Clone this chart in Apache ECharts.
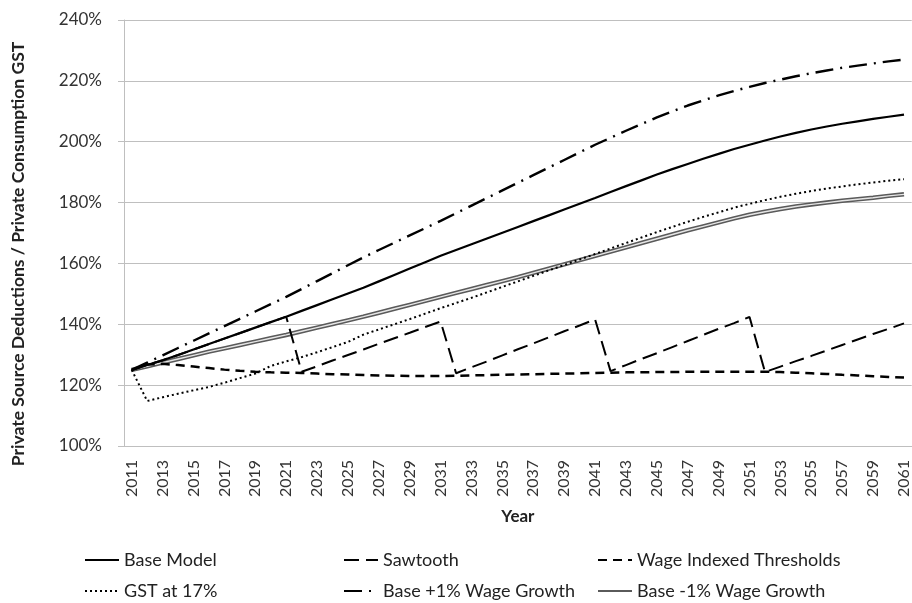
<!DOCTYPE html>
<html>
<head>
<meta charset="utf-8">
<script src="https://cdn.jsdelivr.net/npm/echarts@6/dist/echarts.min.js"></script>
<style>
  html, body { margin: 0; padding: 0; background: #fff; }
  #viz { width: 912px; height: 603px; }
</style>
</head>
<body>
<div id="viz"></div>
<script>
const years = [
  '2011', '2012', '2013', '2014', '2015', '2016', '2017', '2018', '2019', '2020',
  '2021', '2022', '2023', '2024', '2025', '2026', '2027', '2028', '2029', '2030',
  '2031', '2032', '2033', '2034', '2035', '2036', '2037', '2038', '2039', '2040',
  '2041', '2042', '2043', '2044', '2045', '2046', '2047', '2048', '2049', '2050',
  '2051', '2052', '2053', '2054', '2055', '2056', '2057', '2058', '2059', '2060',
  '2061',
]

const baseModel = [
  125.0, 126.6, 128.2, 129.9, 131.7, 133.5, 135.3, 137.1, 138.9, 140.7,
  142.5, 144.4, 146.3, 148.2, 150.1, 152.0, 154.1, 156.2, 158.3, 160.4,
  162.5, 164.4, 166.3, 168.2, 170.1, 172.0, 173.9, 175.8, 177.7, 179.6,
  181.5, 183.5, 185.4, 187.3, 189.2, 191.0, 192.7, 194.4, 196.0, 197.6,
  199.0, 200.4, 201.7, 202.9, 204.0, 205.0, 205.9, 206.7, 207.5, 208.2,
  208.9,
]

const sawtooth = [
  125.0, 126.6, 128.2, 129.9, 131.7, 133.5, 135.3, 137.1, 138.9, 140.7,
  142.5, 124.4, 126.2, 128.1, 129.9, 131.7, 133.6, 135.4, 137.2, 139.1,
  140.9, 123.9, 125.9, 127.8, 129.8, 131.8, 133.7, 135.7, 137.7, 139.6,
  141.6, 124.6, 126.6, 128.6, 130.5, 132.5, 134.5, 136.5, 138.5, 140.4,
  142.4, 124.3, 126.1, 127.9, 129.6, 131.4, 133.2, 135.0, 136.8, 138.5,
  140.3,
]

const wageIndexed = [
  125.0, 126.8, 127.0, 126.6, 126.1, 125.6, 125.1, 124.7, 124.4, 124.2,
  124.1, 124.0, 123.8, 123.6, 123.5, 123.3, 123.2, 123.1, 123.0, 123.0,
  123.0, 123.1, 123.2, 123.3, 123.4, 123.5, 123.6, 123.7, 123.8, 123.9,
  124.0, 124.1, 124.2, 124.2, 124.3, 124.3, 124.4, 124.4, 124.4, 124.4,
  124.4, 124.4, 124.3, 124.1, 123.9, 123.7, 123.4, 123.2, 122.9, 122.7,
  122.5,
]

const gst17 = [
  125.0, 114.8, 116.0, 117.2, 118.3, 119.4, 120.8, 122.3, 123.8, 126.3,
  127.8, 129.2, 130.8, 132.5, 134.2, 136.6, 138.3, 140.0, 141.7, 143.5,
  145.3, 147.0, 148.7, 150.5, 152.3, 154.1, 155.9, 157.7, 159.5, 161.3,
  163.1, 164.9, 166.7, 168.5, 170.3, 172.0, 173.7, 175.3, 176.8, 178.3,
  179.6, 180.8, 181.9, 182.9, 183.8, 184.6, 185.3, 186.0, 186.6, 187.2,
  187.7,
]

const basePlus1 = [
  125.0, 127.4, 129.8, 132.2, 134.6, 137.0, 139.4, 141.8, 144.2, 146.6,
  149.0, 151.6, 154.2, 156.8, 159.4, 162.0, 164.4, 166.8, 169.2, 171.6,
  174.0, 176.5, 179.0, 181.5, 184.0, 186.5, 189.0, 191.5, 194.0, 196.5,
  199.0, 201.3, 203.6, 205.8, 208.0, 210.0, 211.9, 213.6, 215.2, 216.7,
  218.0, 219.3, 220.4, 221.5, 222.5, 223.4, 224.3, 225.0, 225.7, 226.4,
  227.0,
]

const baseMinus1 = [
  125.0, 126.2, 127.4, 128.6, 129.8, 131.0, 132.1, 133.2, 134.3, 135.4,
  136.5, 137.7, 138.9, 140.1, 141.3, 142.5, 143.8, 145.1, 146.4, 147.7,
  149.0, 150.3, 151.6, 152.9, 154.2, 155.5, 156.9, 158.3, 159.7, 161.1,
  162.5, 163.9, 165.3, 166.7, 168.1, 169.5, 170.9, 172.2, 173.5, 174.8,
  176.0, 177.0, 177.9, 178.7, 179.4, 180.0, 180.6, 181.1, 181.6, 182.2,
  182.7,
]

const yTicks = [100, 120, 140, 160, 180, 200, 220, 240]

const font = 'Lato, "Open Sans", sans-serif'
const gridGray = '#bfbfbf'

const line = (name, data, lineStyle, z) => ({
  name,
  type: 'line',
  data,
  symbol: 'none',
  smooth: false,
  z: z || 2,
  lineStyle: Object.assign({ color: '#000', width: 2 }, lineStyle),
  itemStyle: { color: lineStyle.color || '#000' },
  emphasis: { disabled: true },
})

const legendCol = (left, names) => ({
  orient: 'vertical',
  left,
  top: 550,
  height: 53,
  padding: 0,
  itemWidth: 34,
  itemHeight: 14,
  itemGap: 11,
  data: names,
  itemStyle: { opacity: 0 },
  textStyle: { fontFamily: font, fontSize: 18, color: '#222', lineHeight: 20 },
})

const chart = echarts.init(document.getElementById('viz'))

chart.setOption({
  animation: false,
  textStyle: { fontFamily: font },
  grid: { left: 124, right: 0, top: 20, bottom: 157 },
  legend: [
    legendCol(84, ['Base Model', 'GST at 17%']),
    legendCol(343, ['Sawtooth', 'Base +1% Wage Growth']),
    legendCol(597, ['Wage Indexed Thresholds', 'Base -1% Wage Growth']),
  ],
  xAxis: {
    type: 'category',
    data: years,
    boundaryGap: true,
    name: 'Year',
    nameLocation: 'middle',
    nameGap: 62,
    nameTextStyle: { fontFamily: font, fontSize: 17, fontWeight: 'bold', color: '#222' },
    axisLine: { lineStyle: { color: gridGray } },
    axisTick: { interval: 1, length: 6, lineStyle: { color: gridGray } },
    axisLabel: {
      interval: 1,
      rotate: 90,
      margin: 14,
      fontFamily: font,
      fontSize: 16,
      color: '#333',
    },
  },
  yAxis: {
    type: 'value',
    min: yTicks[0],
    max: yTicks[yTicks.length - 1],
    interval: 20,
    name: 'Private Source Deductions / Private Consumption GST',
    nameLocation: 'middle',
    nameGap: 97,
    nameTextStyle: {
      fontFamily: font,
      fontSize: 17.5,
      fontWeight: 'bold',
      color: '#222',
      padding: [0, 42, 0, 0],
    },
    axisLine: { show: true, lineStyle: { color: gridGray } },
    axisTick: { show: true, length: 6, lineStyle: { color: gridGray } },
    axisLabel: {
      formatter: '{value}%',
      margin: 22,
      fontFamily: font,
      fontSize: 17,
      color: '#333',
    },
    splitLine: { lineStyle: { color: gridGray, width: 1.2 } },
  },
  series: [
    line('Base -1% Wage Growth', baseMinus1, { color: '#5a5a5a', width: 4.5 }, 2),
    // light core of the double line, kept out of the legend
    line('Base -1% core', baseMinus1, { color: '#e6e6e6', width: 1.4 }, 3),
    line('GST at 17%', gst17, { width: 2, type: [2, 3] }, 4),
    line('Wage Indexed Thresholds', wageIndexed, { width: 2.5, type: [9, 6] }, 4),
    line('Sawtooth', sawtooth, { width: 2, type: [15, 7] }, 4),
    line('Base +1% Wage Growth', basePlus1, { width: 2.4, type: [18, 7, 2, 7] }, 5),
    line('Base Model', baseModel, { width: 2.2 }, 6),
  ],
})
</script>
</body>
</html>
